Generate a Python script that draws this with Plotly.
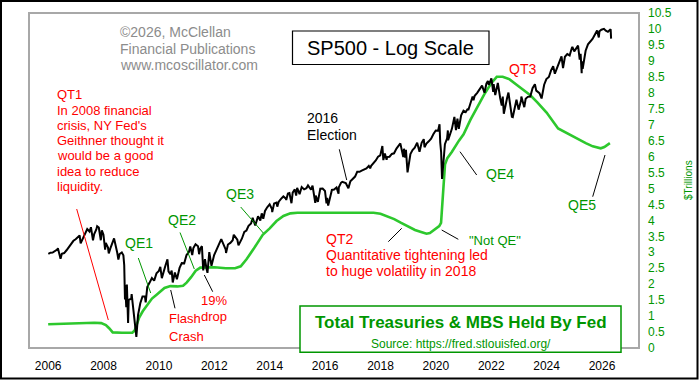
import plotly.graph_objects as go

# ---------------- data ----------------
sp_dates = [
"2006-01-03","2006-01-31","2006-02-28","2006-03-31","2006-04-30","2006-05-09","2006-05-31","2006-06-13","2006-06-30","2006-07-31","2006-08-31","2006-09-30","2006-10-31","2006-11-30","2006-12-29",
"2007-01-31","2007-02-20","2007-03-05","2007-03-30","2007-04-30","2007-05-31","2007-06-30","2007-07-19","2007-08-15","2007-08-31","2007-09-28","2007-10-09","2007-10-31","2007-11-26","2007-12-10","2007-12-31",
"2008-01-22","2008-01-31","2008-02-29","2008-03-10","2008-03-31","2008-04-30","2008-05-19","2008-06-30","2008-07-15","2008-07-31","2008-08-29","2008-09-19","2008-09-30","2008-10-10","2008-10-13","2008-10-27","2008-11-04","2008-11-20","2008-11-28","2008-12-31",
"2009-01-06","2009-01-30","2009-02-27","2009-03-09","2009-03-31","2009-04-30","2009-05-29","2009-06-30","2009-07-10","2009-07-31","2009-08-31","2009-09-30","2009-10-30","2009-11-30","2009-12-31",
"2010-01-19","2010-02-08","2010-02-26","2010-03-31","2010-04-23","2010-05-07","2010-05-31","2010-06-18","2010-07-02","2010-07-30","2010-08-26","2010-09-30","2010-10-29","2010-11-30","2010-12-31",
"2011-01-31","2011-02-18","2011-03-16","2011-03-31","2011-04-29","2011-05-31","2011-06-15","2011-06-30","2011-07-22","2011-08-08","2011-08-31","2011-09-22","2011-10-03","2011-10-27","2011-11-25","2011-12-30",
"2012-01-31","2012-02-29","2012-04-02","2012-05-31","2012-06-04","2012-06-29","2012-07-31","2012-08-31","2012-09-14","2012-10-31","2012-11-15","2012-12-31",
"2013-01-31","2013-02-28","2013-03-28","2013-04-30","2013-05-21","2013-06-24","2013-07-31","2013-08-30","2013-09-18","2013-10-08","2013-10-31","2013-11-29","2013-12-31",
"2014-01-31","2014-02-03","2014-02-28","2014-03-31","2014-04-11","2014-04-30","2014-05-30","2014-06-30","2014-07-31","2014-08-07","2014-08-29","2014-09-18","2014-10-15","2014-10-31","2014-11-28","2014-12-16","2014-12-29",
"2015-01-30","2015-02-27","2015-03-31","2015-04-30","2015-05-21","2015-06-30","2015-07-20","2015-08-25","2015-08-31","2015-09-28","2015-10-30","2015-11-30","2015-12-31",
"2016-01-20","2016-01-29","2016-02-11","2016-02-29","2016-03-31","2016-04-29","2016-05-31","2016-06-27","2016-06-30","2016-07-29","2016-08-15","2016-09-30","2016-11-04","2016-11-30","2016-12-30",
"2017-01-31","2017-02-28","2017-03-31","2017-04-28","2017-05-31","2017-06-30","2017-07-31","2017-08-18","2017-08-31","2017-09-29","2017-10-31","2017-11-30","2017-12-29",
"2018-01-26","2018-02-08","2018-02-28","2018-03-23","2018-03-29","2018-04-30","2018-05-31","2018-06-29","2018-07-31","2018-08-31","2018-09-20","2018-10-29","2018-11-07","2018-11-23","2018-12-03","2018-12-24",
"2019-01-31","2019-02-28","2019-03-29","2019-04-30","2019-05-31","2019-06-28","2019-07-26","2019-08-05","2019-08-30","2019-09-30","2019-10-31","2019-11-29","2019-12-31",
"2020-01-31","2020-02-19","2020-02-28","2020-03-11","2020-03-23","2020-04-30","2020-05-29","2020-06-08","2020-06-11","2020-06-30","2020-07-31","2020-09-02","2020-09-23","2020-10-12","2020-10-30","2020-11-30","2020-12-31",
"2021-01-29","2021-02-26","2021-03-04","2021-03-31","2021-04-30","2021-05-12","2021-05-28","2021-06-30","2021-07-30","2021-08-31","2021-09-02","2021-10-04","2021-10-29","2021-11-18","2021-11-30","2021-12-31",
"2022-01-03","2022-01-27","2022-02-02","2022-02-23","2022-03-29","2022-04-29","2022-05-20","2022-06-02","2022-06-16","2022-07-29","2022-08-16","2022-09-30","2022-10-12","2022-11-30","2022-12-28",
"2023-01-31","2023-02-02","2023-03-13","2023-03-31","2023-04-28","2023-05-31","2023-06-30","2023-07-31","2023-08-18","2023-09-29","2023-10-27","2023-11-30","2023-12-29",
"2024-01-31","2024-02-29","2024-03-28","2024-04-19","2024-05-31","2024-06-28","2024-07-16","2024-08-05","2024-08-30","2024-09-30","2024-10-31","2024-11-29","2024-12-06","2024-12-31",
"2025-01-31","2025-02-19","2025-03-13","2025-03-25","2025-04-08","2025-04-09","2025-04-21","2025-05-30","2025-06-30","2025-07-31","2025-08-29","2025-09-30","2025-10-28","2025-11-20","2025-11-28","2025-12-24",
"2026-01-27","2026-02-20","2026-03-20","2026-04-25","2026-05-01",
]
sp_values = [
1269,1280,1281,1295,1311,1325,1270,1223,1270,1277,1304,1336,1378,1401,1418,
1438,1459,1374,1421,1482,1531,1503,1553,1406,1474,1527,1565,1549,1407,1516,1468,
1310,1379,1331,1273,1323,1386,1426,1280,1215,1267,1283,1255,1166,899,1003,848,1006,752,896,903,
935,826,735,677,798,873,919,919,879,987,1021,1057,1036,1096,1115,
1150,1056,1104,1169,1217,1111,1089,1118,1022,1102,1047,1141,1183,1181,1258,
1286,1343,1257,1326,1364,1345,1266,1321,1345,1119,1219,1129,1099,1285,1159,1258,
1312,1366,1419,1310,1278,1362,1379,1407,1466,1412,1353,1426,
1498,1515,1569,1598,1669,1573,1686,1633,1725,1656,1757,1806,1848,
1783,1741,1859,1872,1815,1884,1924,1960,1931,1910,2003,2011,1862,2018,2068,1973,2091,
1995,2105,2068,2086,2131,2063,2128,1868,1972,1882,2079,2080,2044,
1859,1940,1829,1932,2060,2065,2097,2001,2099,2174,2190,2168,2085,2199,2239,
2279,2364,2363,2384,2412,2423,2470,2426,2472,2519,2575,2648,2674,
2873,2581,2714,2588,2641,2648,2705,2718,2816,2902,2930,2641,2814,2633,2790,2351,
2704,2784,2834,2946,2752,2942,3026,2845,2926,2977,3038,3141,3231,
3226,3386,2954,2741,2237,2912,3044,3232,3002,3100,3271,3580,3237,3534,3270,3622,3756,
3714,3811,3768,3973,4181,4063,4204,4298,4395,4523,4537,4300,4605,4705,4567,4766,
4797,4327,4589,4226,4632,4132,3901,4177,3667,4130,4305,3586,3577,4080,3783,
4077,4180,3855,4109,4169,4180,4450,4589,4370,4288,4117,4568,4770,
4846,5096,5254,4967,5278,5460,5667,5186,5648,5762,5705,6032,6090,5882,
6041,6144,5522,5777,4983,5457,5158,5912,6205,6339,6460,6688,6890,6538,6849,6932,
6978,6880,6820,6950,6480,
]

fed_dates = [
"2006-01-01","2006-07-01","2007-01-01","2007-06-01","2007-09-01","2007-12-01","2008-02-01","2008-03-15","2008-05-01","2008-09-01",
"2009-01-15","2009-02-15","2009-03-15","2009-04-15","2009-06-01","2009-08-01","2009-10-01","2009-12-01","2010-03-15","2010-06-01",
"2010-09-01","2010-11-15","2011-01-01","2011-03-01","2011-05-01","2011-07-01","2012-01-01","2012-06-01","2012-10-01","2012-12-15",
"2013-03-01","2013-06-01","2013-10-01","2014-01-01","2014-04-01","2014-07-01","2014-10-01","2015-01-01","2016-01-01","2017-01-01",
"2017-10-01","2018-01-01","2018-04-01","2018-07-01","2018-10-01","2019-01-01","2019-04-01","2019-07-01","2019-09-01","2019-10-15",
"2019-12-01","2020-02-15","2020-03-10","2020-03-20","2020-03-31","2020-04-15","2020-05-01","2020-06-01","2020-08-01","2020-11-01",
"2021-01-01","2021-04-01","2021-07-01","2021-10-01","2022-01-01","2022-03-15","2022-06-01","2022-09-01","2022-12-01","2023-03-01",
"2023-06-01","2023-09-01","2024-01-01","2024-06-01","2024-10-01","2025-03-01","2025-06-01","2025-09-01","2025-12-15","2026-02-01",
"2026-04-15",
]
fed_values = [
0.745,0.76,0.78,0.80,0.79,0.78,0.72,0.62,0.49,0.48,
0.48,0.55,0.72,0.95,1.15,1.35,1.55,1.67,1.88,1.94,
1.93,1.95,2.05,2.22,2.42,2.52,2.53,2.50,2.50,2.56,
2.78,3.10,3.55,3.75,3.98,4.14,4.22,4.24,4.24,4.24,
4.24,4.21,4.13,4.04,3.92,3.80,3.70,3.63,3.58,3.60,
3.68,3.82,3.92,4.30,4.85,5.45,5.75,5.95,6.15,6.50,
6.70,7.15,7.55,7.95,8.30,8.50,8.50,8.42,8.25,8.10,
7.92,7.70,7.38,6.88,6.72,6.53,6.42,6.32,6.26,6.30,
6.42,
]

# ---------------- layout geometry (pixels) ----------------
W, H = 699, 380
L, R, T, B = 29, 639, 13, 348
FONT = "Liberation Sans, Arial, sans-serif"
GREEN_LINE = "#2dc82d"
GREEN_TXT = "#009600"
RED = "#ff0000"
GRAY = "#8c8c8c"


def px(x):
    return (x - L) / (R - L)


def py(y):
    return (B - y) / (B - T)


fig = go.Figure()
fig.add_trace(go.Scatter(x=fed_dates, y=fed_values, mode="lines", yaxis="y",
                         line=dict(color=GREEN_LINE, width=2.6), hoverinfo="skip"))
fig.add_trace(go.Scatter(x=sp_dates, y=sp_values, mode="lines", yaxis="y2",
                         line=dict(color="black", width=2), hoverinfo="skip"))

annotations = []


def txt(s, x, y, color, size, anchor="left", bold=False, angle=0):
    if bold:
        s = "<b>" + s + "</b>"
    annotations.append(dict(text=s, x=px(x), y=py(y), xref="paper", yref="paper",
                            xanchor=anchor, yanchor="middle", showarrow=False,
                            textangle=angle, borderpad=0,
                            font=dict(family=FONT, size=size, color=color)))


shapes = []


def line(x0, y0, x1, y1, color, width=1):
    shapes.append(dict(type="line", xref="paper", yref="paper", x0=px(x0), y0=py(y0),
                       x1=px(x1), y1=py(y1), line=dict(color=color, width=width), layer="above"))


def rect(x0, y0, x1, y1, color, width=1.5, fill="rgba(0,0,0,0)", layer="above"):
    shapes.append(dict(type="rect", xref="paper", yref="paper", x0=px(x0), y0=py(y0),
                       x1=px(x1), y1=py(y1), line=dict(color=color, width=width),
                       fillcolor=fill, layer=layer))


# frame and outer border
rect(L, T, R, B, "#a8a8a8", width=2, layer="below")
rect(1, 1, 697.5, 378.5, "black", width=2)

# copyright text
for i, s in enumerate(["©2026, McClellan", "Financial Publications", "www.mcoscillator.com"]):
    txt(s, 119, 32 + i * 16.5, GRAY, 14)

# title box
rect(292.5, 31, 489, 64.5, "black", width=1.2, fill="white")
txt("SP500 - Log Scale", 391, 47.5, "black", 20, anchor="center")

# QT1 block
qt1 = ["QT1", "In 2008 financial", "crisis, NY Fed's", "Geithner thought it",
       "would be a good", "idea to reduce", "liquidity."]
for i, s in enumerate(qt1):
    txt(s, 56, 95 + i * 15.2, RED, 13)
line(76.7, 209, 108.3, 320, RED)

# QE labels
txt("QE1", 138.5, 243, GREEN_TXT, 14, anchor="center")
line(138.3, 258, 150.7, 293, GREEN_TXT)
txt("QE2", 181.5, 220, GREEN_TXT, 14, anchor="center")
line(180, 232.5, 194.3, 269, GREEN_TXT)
txt("QE3", 240, 193.5, GREEN_TXT, 14, anchor="center")
line(240.7, 207, 263.3, 233, GREEN_TXT)

# Flash crash / 19% drop
txt("Flash", 167.5, 318.5, RED, 13)
txt("Crash", 167.5, 336, RED, 13)
line(170.7, 290, 175, 308.3, "black")
txt("19%", 199.5, 300, RED, 13)
txt("drop", 199.5, 316.5, RED, 13)
line(204.3, 275, 212.7, 291.7, "black")

# 2016 election
txt("2016", 305.5, 118.5, "black", 14)
txt("Election", 305.5, 135, "black", 14)
line(339.3, 149.3, 346.7, 180, "black")

# QT2
txt("QT2", 325, 239.5, RED, 14)
txt("Quantitative tightening led", 325, 255, RED, 14)
txt("to huge volatility in 2018", 325, 270.5, RED, 14)
line(388.3, 241.7, 401.7, 228.3, "black")

# Not QE
txt('"Not QE"', 467.5, 240.5, GREEN_TXT, 13)
line(441.7, 230, 458.3, 239.3, "black")

# QE4 / QT3 / QE5
txt("QE4", 484.5, 173.5, GREEN_TXT, 14)
line(460, 151.7, 476.7, 175, "black")
txt("QT3", 507.5, 68.5, RED, 14)
txt("QE5", 566.5, 205, GREEN_TXT, 14)
line(605, 155, 592.7, 196.7, "black")

# legend box
rect(300, 306, 621, 352.3, GREEN_TXT, width=1.5, fill="white")
txt("Total Treasuries & MBS Held By Fed", 460.5, 322, GREEN_TXT, 17, anchor="center", bold=True)
txt("Source: https://fred.stlouisfed.org/", 460.5, 343.5, GREEN_TXT, 12, anchor="center")

# right axis title
txt("$Trillions", 688, 180, GREEN_TXT, 10, anchor="center", angle=-90)

fig.update_layout(
    width=W, height=H,
    margin=dict(l=L, r=W - R, t=T, b=H - B, autoexpand=False),
    paper_bgcolor="white", plot_bgcolor="white",
    showlegend=False,
    font=dict(family=FONT, size=12, color="black"),
    xaxis=dict(type="date", range=["2005-04-23", "2027-05-04"],
               tick0="2006-01-01", dtick="M24", tickformat="%Y",
               showgrid=False, zeroline=False, showline=False, ticks="",
               ticklabelstandoff=9,
               tickfont=dict(family=FONT, size=12, color="black")),
    yaxis=dict(range=[0, 10.5], dtick=0.5, tick0=0, side="right",
               showgrid=False, zeroline=False, showline=False, ticks="",
               ticklabelstandoff=8,
               tickfont=dict(family=FONT, size=12, color=GREEN_TXT)),
    yaxis2=dict(type="log", range=[2.7938, 3.8958], overlaying="y", side="left",
                visible=False, showgrid=False, zeroline=False),
    annotations=annotations,
    shapes=shapes,
)

fig.write_html("out.html", config={"displayModeBar": False},
               post_script="document.body.style.margin='0px';")
